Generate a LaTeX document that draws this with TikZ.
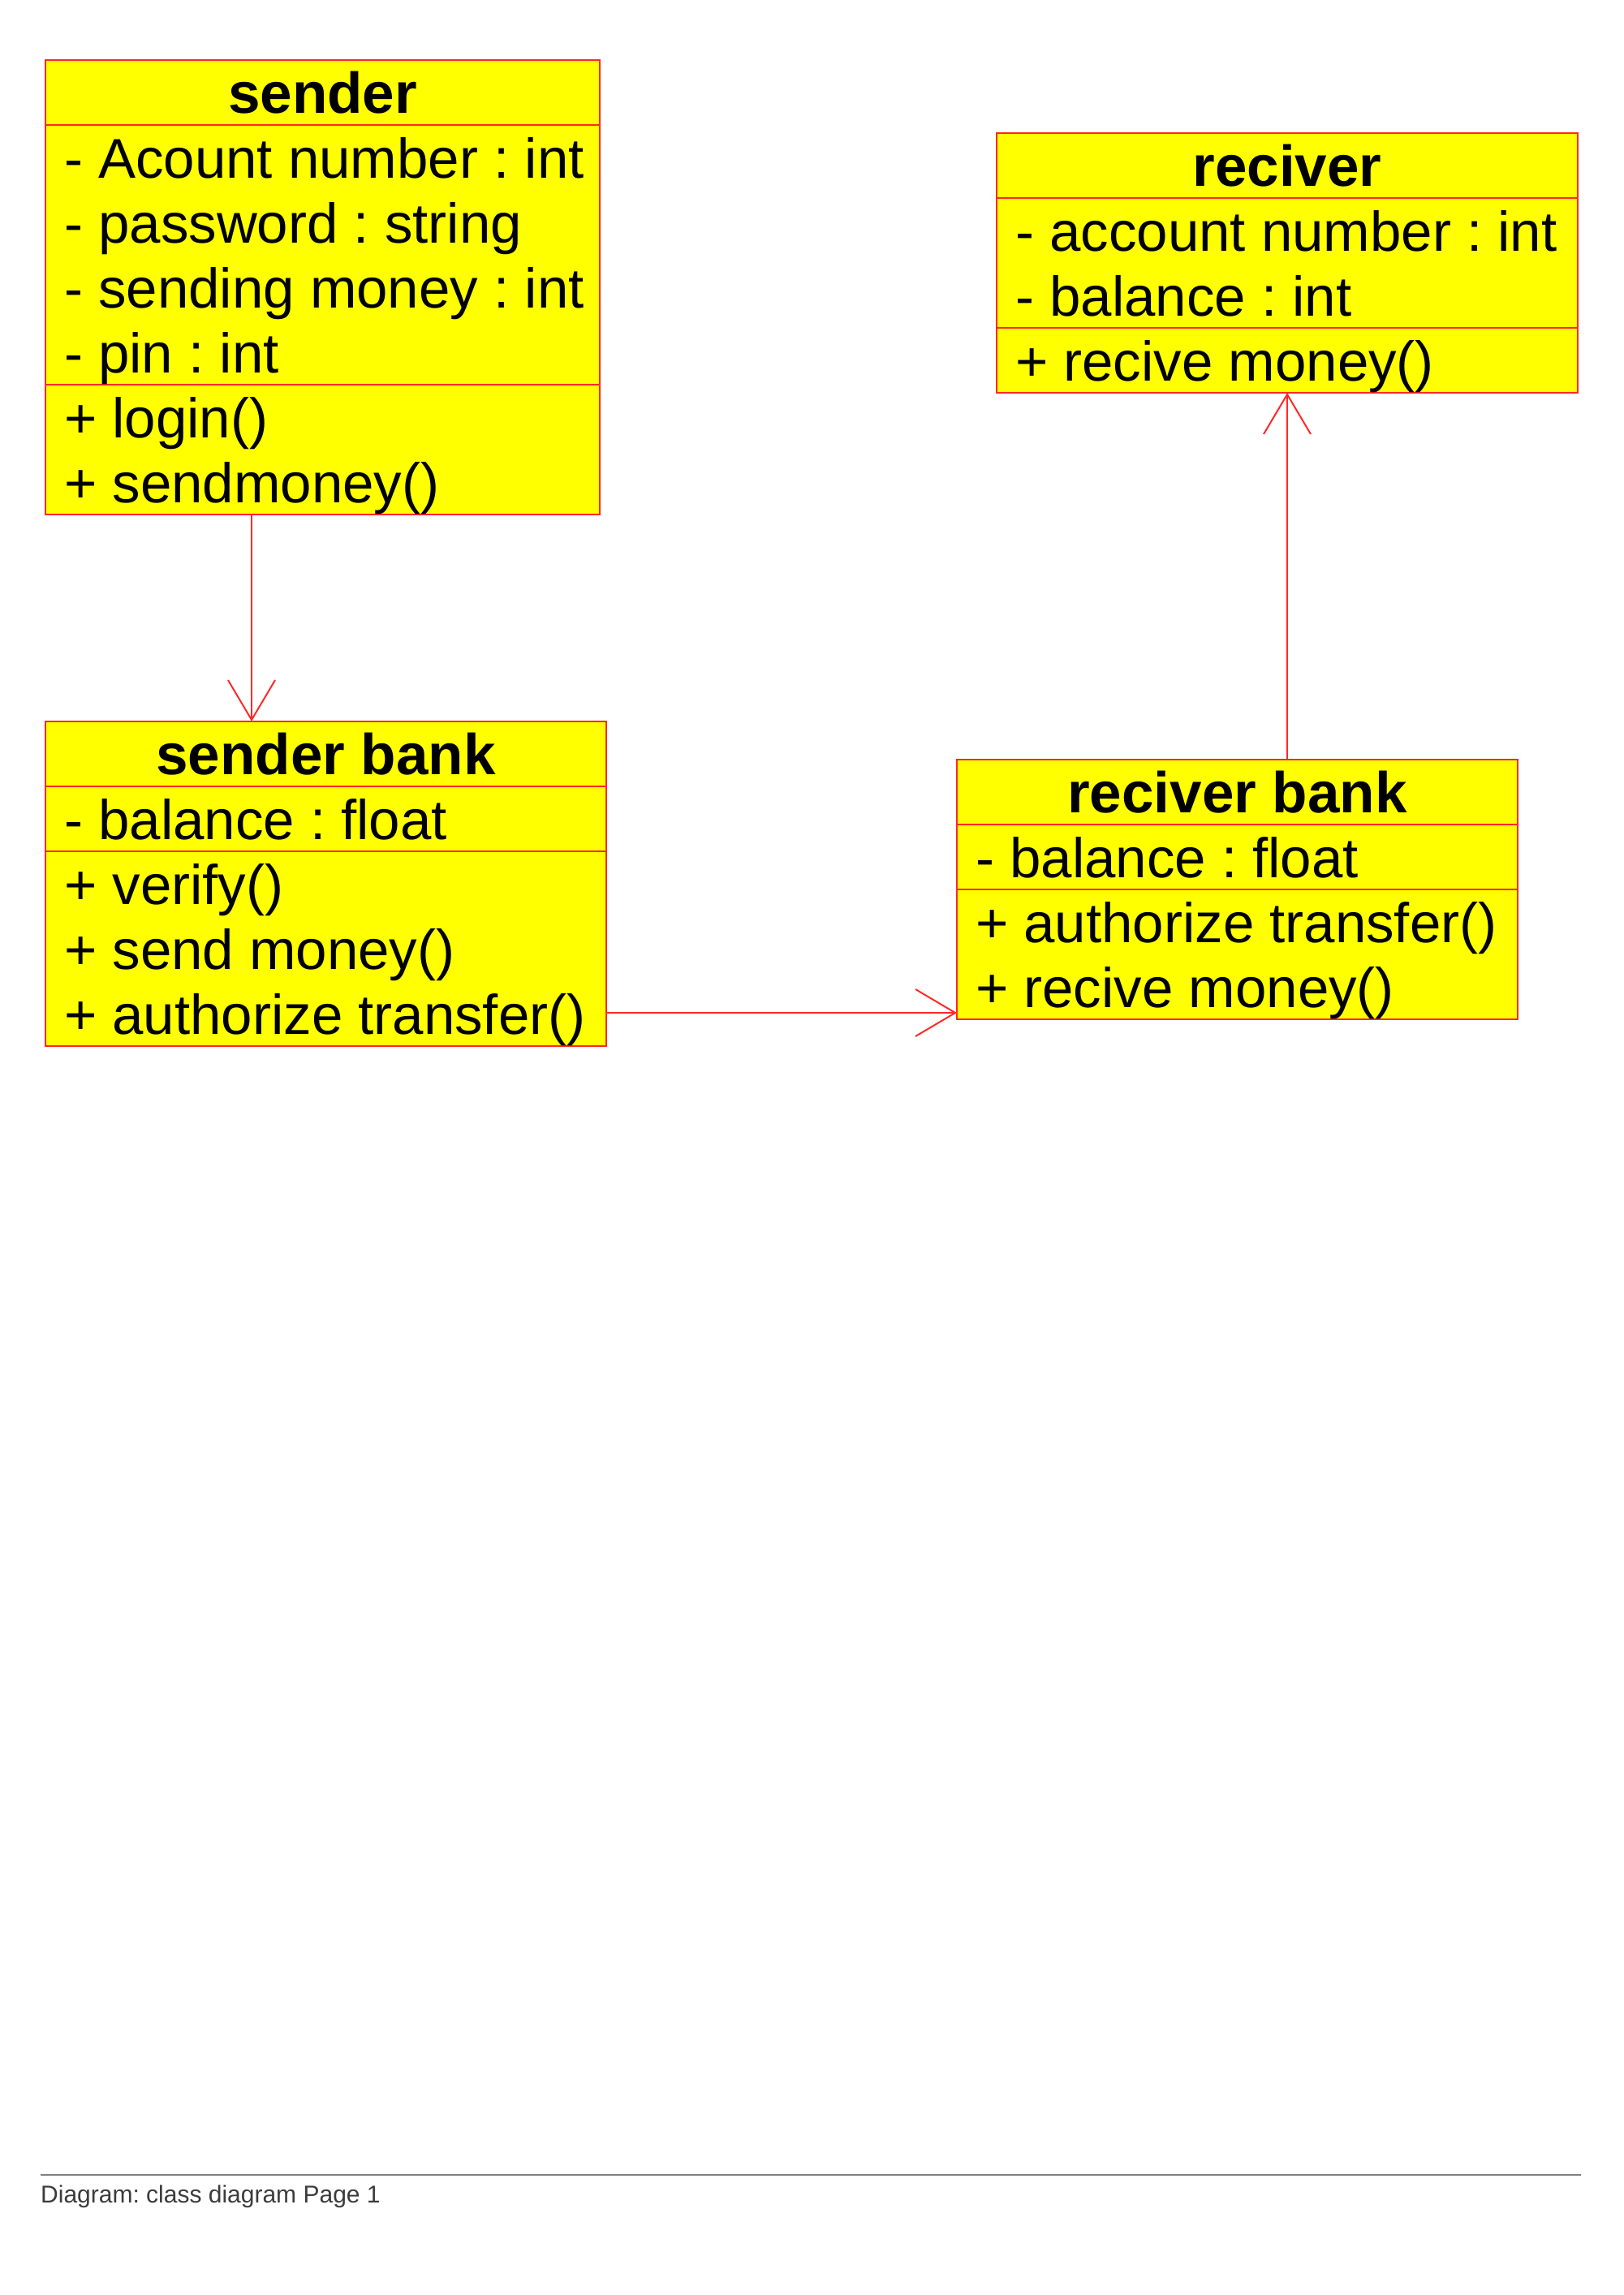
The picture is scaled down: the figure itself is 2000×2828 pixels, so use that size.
\documentclass[tikz,border=0pt]{standalone}
\usepackage{fontspec}
\setmainfont{Liberation Sans}
\usetikzlibrary{arrows.meta}
\definecolor{boxyellow}{RGB}{255,255,0}
\definecolor{boxred}{RGB}{255,40,40}
\definecolor{footgray}{RGB}{128,128,128}
\definecolor{foottext}{RGB}{60,60,60}
\tikzset{
  classbox/.style={draw=boxred, fill=boxyellow, line width=2pt, anchor=north west, inner sep=0pt, outer sep=0pt},
  sepline/.style={draw=boxred, line width=2pt},
  hdr/.style={anchor=base, inner sep=0pt, font=\fontsize{71}{80}\selectfont\bfseries\frenchspacing},
  rowtxt/.style={anchor=base west, inner sep=0pt, font=\fontsize{69}{80}\selectfont\frenchspacing},
  conn/.style={draw=boxred, line width=2pt, -{Straight Barb[length=49pt,width=58pt,line width=2pt]}},
}
\begin{document}
\frenchspacing
\begin{tikzpicture}[x=1pt,y=-1pt]
\useasboundingbox (0,0) rectangle (2000,2828);

% sender
\node[classbox, minimum width=683pt, minimum height=560pt] (sender) at (56,74) {};
\draw[sepline] ([yshift=-80pt]sender.north west) -- ([yshift=-80pt]sender.north east);
\draw[sepline] ([yshift=-400pt]sender.north west) -- ([yshift=-400pt]sender.north east);
\node[hdr] (sender-h) at ([yshift=-65.5pt]sender.north) {sender};
\node[rowtxt] (sender-a1) at ([xshift=23pt,yshift=-145.5pt]sender.north west) {- Acount number : int};
\node[rowtxt] (sender-a2) at ([xshift=23pt,yshift=-225.5pt]sender.north west) {- password : string};
\node[rowtxt] (sender-a3) at ([xshift=23pt,yshift=-305.5pt]sender.north west) {- sending money : int};
\node[rowtxt] (sender-a4) at ([xshift=23pt,yshift=-385.5pt]sender.north west) {- pin : int};
\node[rowtxt] (sender-m1) at ([xshift=23pt,yshift=-465.5pt]sender.north west) {+ login()};
\node[rowtxt] (sender-m2) at ([xshift=23pt,yshift=-545.5pt]sender.north west) {+ sendmoney()};

% reciver
\node[classbox, minimum width=716pt, minimum height=320pt] (rec) at (1228,164) {};
\draw[sepline] ([yshift=-80pt]rec.north west) -- ([yshift=-80pt]rec.north east);
\draw[sepline] ([yshift=-240pt]rec.north west) -- ([yshift=-240pt]rec.north east);
\node[hdr] (rec-h) at ([yshift=-65.5pt]rec.north) {reciver};
\node[rowtxt] (rec-a1) at ([xshift=23pt,yshift=-145.5pt]rec.north west) {- account number : int};
\node[rowtxt] (rec-a2) at ([xshift=23pt,yshift=-225.5pt]rec.north west) {- balance : int};
\node[rowtxt] (rec-m1) at ([xshift=23pt,yshift=-305.5pt]rec.north west) {+ recive money()};

% sender bank
\node[classbox, minimum width=691pt, minimum height=400pt] (sbank) at (56,889) {};
\draw[sepline] ([yshift=-80pt]sbank.north west) -- ([yshift=-80pt]sbank.north east);
\draw[sepline] ([yshift=-160pt]sbank.north west) -- ([yshift=-160pt]sbank.north east);
\node[hdr] (sbank-h) at ([yshift=-65.5pt]sbank.north) {sender bank};
\node[rowtxt] (sbank-a1) at ([xshift=23pt,yshift=-145.5pt]sbank.north west) {- balance : float};
\node[rowtxt] (sbank-m1) at ([xshift=23pt,yshift=-225.5pt]sbank.north west) {+ verify()};
\node[rowtxt] (sbank-m2) at ([xshift=23pt,yshift=-305.5pt]sbank.north west) {+ send money()};
\node[rowtxt] (sbank-m3) at ([xshift=23pt,yshift=-385.5pt]sbank.north west) {+ authorize transfer()};

% reciver bank
\node[classbox, minimum width=691pt, minimum height=320pt] (rbank) at (1179,936) {};
\draw[sepline] ([yshift=-80pt]rbank.north west) -- ([yshift=-80pt]rbank.north east);
\draw[sepline] ([yshift=-160pt]rbank.north west) -- ([yshift=-160pt]rbank.north east);
\node[hdr] (rbank-h) at ([yshift=-65.5pt]rbank.north) {reciver bank};
\node[rowtxt] (rbank-a1) at ([xshift=23pt,yshift=-145.5pt]rbank.north west) {- balance : float};
\node[rowtxt] (rbank-m1) at ([xshift=23pt,yshift=-225.5pt]rbank.north west) {+ authorize transfer()};
\node[rowtxt] (rbank-m2) at ([xshift=23pt,yshift=-305.5pt]rbank.north west) {+ recive money()};

% connectors
\coordinate (c1) at ([xshift=254pt]sender.south west);
\draw[conn] (c1) -- (c1 |- sbank.north);
\coordinate (c2) at ([yshift=41pt]sbank.south east);
\draw[conn] (c2) -- (c2 -| rbank.west);
\draw[conn] (rec.south |- rbank.north) -- (rec.south);

% footer
\coordinate (fl) at (50,2680);
\coordinate (fr) at (1948,2680);
\draw[footgray, line width=2.5pt] (fl) -- (fr);
\node[anchor=base west, inner sep=0pt, text=foottext, font=\fontsize{30}{36}\selectfont\frenchspacing] (footer) at (50,2714) {Diagram: class diagram Page 1};
\end{tikzpicture}
\end{document}
